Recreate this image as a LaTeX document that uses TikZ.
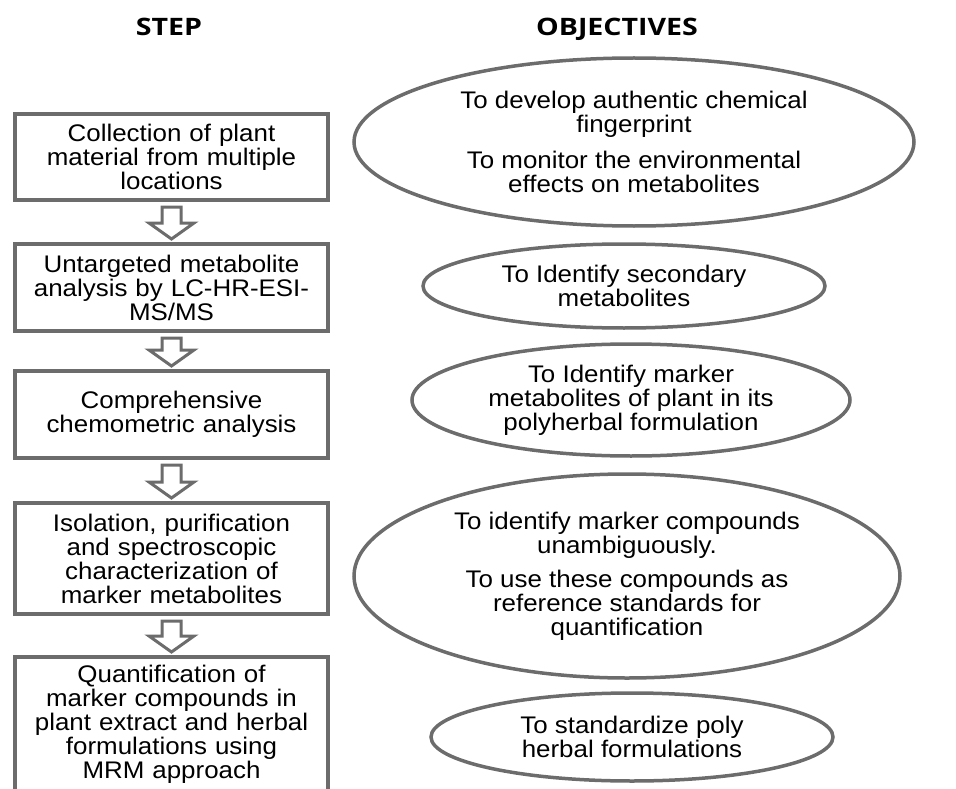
\documentclass[tikz,border=0pt]{standalone}
\usepackage{fontspec}
\setmainfont{Liberation Sans}[FakeStretch=1.08]
\newfontfamily\headfont{Open Sans}[FakeStretch=1.19]
\usepackage{xcolor}
\usepackage{tikz}
\usetikzlibrary{shapes.geometric, positioning}
\definecolor{framegray}{HTML}{6C6C6C}
\tikzstyle{stepbox}   = [rectangle, draw=framegray, line width=4pt, minimum width=313pt,
                         text width=305pt, align=center, inner sep=0pt,
                         font=\fontsize{24}{24}\selectfont]
\tikzstyle{objective} = [ellipse, draw=framegray, line width=3.5pt, inner sep=0pt,
                         align=center, font=\fontsize{24}{24}\selectfont]
\tikzstyle{arr}       = [draw=framegray, fill=white, line width=3pt, line join=miter]
\tikzstyle{heading}   = [anchor=base, font=\headfont\bfseries\fontsize{24}{24}\selectfont]

\begin{document}
\begin{tikzpicture}[x=1pt, y=1pt]
  \useasboundingbox (0,0) rectangle (956,-789);

  \node[heading] (steph) at (169,-36) {STEP};
  \node[heading] (objh) at (617,-36) {OBJECTIVES};

  % steps
  \node[stepbox, minimum height=86pt] (s1) at (171.5,-157) {Collection of plant\\material from multiple\\locations};
  \node[stepbox, minimum height=87pt, below=40pt of s1] (s2) {Untargeted metabolite\\analysis by LC-HR-ESI-\\MS/MS};
  \node[stepbox, minimum height=87pt, below=36pt of s2] (s3) {Comprehensive\\chemometric analysis};
  \node[stepbox, minimum height=111pt, below=41pt of s3] (s4) {Isolation, purification\\and spectroscopic\\characterization of\\marker metabolites};
  \node[stepbox, minimum height=134pt, below=39pt of s4] (s5) {Quantification of\\marker compounds in\\plant extract and herbal\\formulations using\\MRM approach};

  \draw[arr] ([xshift=-9.5pt,yshift=-5pt]s1.south) -- ++(19pt,0) |- ([xshift=22.5pt,yshift=19pt]s2.north) -- ([yshift=3pt]s2.north) -- ++(-22.5pt,16pt) -- ++(13pt,0) -- cycle;
  \draw[arr] ([xshift=-9.5pt,yshift=-5pt]s2.south) -- ++(19pt,0) |- ([xshift=22.5pt,yshift=19pt]s3.north) -- ([yshift=3pt]s3.north) -- ++(-22.5pt,16pt) -- ++(13pt,0) -- cycle;
  \draw[arr] ([xshift=-9.5pt,yshift=-5pt]s3.south) -- ++(19pt,0) |- ([xshift=22.5pt,yshift=19pt]s4.north) -- ([yshift=3pt]s4.north) -- ++(-22.5pt,16pt) -- ++(13pt,0) -- cycle;
  \draw[arr] ([xshift=-9.5pt,yshift=-5pt]s4.south) -- ++(19pt,0) |- ([xshift=22.5pt,yshift=19pt]s5.north) -- ([yshift=3pt]s5.north) -- ++(-22.5pt,16pt) -- ++(13pt,0) -- cycle;

  % objectives
  \node[objective, minimum width=560pt, minimum height=168pt] (o1) at (634,-142) {To develop authentic chemical\\fingerprint\\[12pt]To monitor the environmental\\effects on metabolites};
  \node[objective, minimum width=402pt, minimum height=84pt] (o2) at (624,-286) {To Identify secondary\\metabolites};
  \node[objective, minimum width=438pt, minimum height=112pt] (o3) at (631,-400) {To Identify marker\\metabolites of plant in its\\polyherbal formulation};
  \node[objective, minimum width=546pt, minimum height=204pt] (o4) at (627,-576) {To identify marker compounds\\unambiguously.\\[10pt]To use these compounds as\\reference standards for\\quantification};
  \node[objective, minimum width=402pt, minimum height=88pt] (o5) at (632,-737) {To standardize poly\\herbal formulations};
\end{tikzpicture}
\end{document}
